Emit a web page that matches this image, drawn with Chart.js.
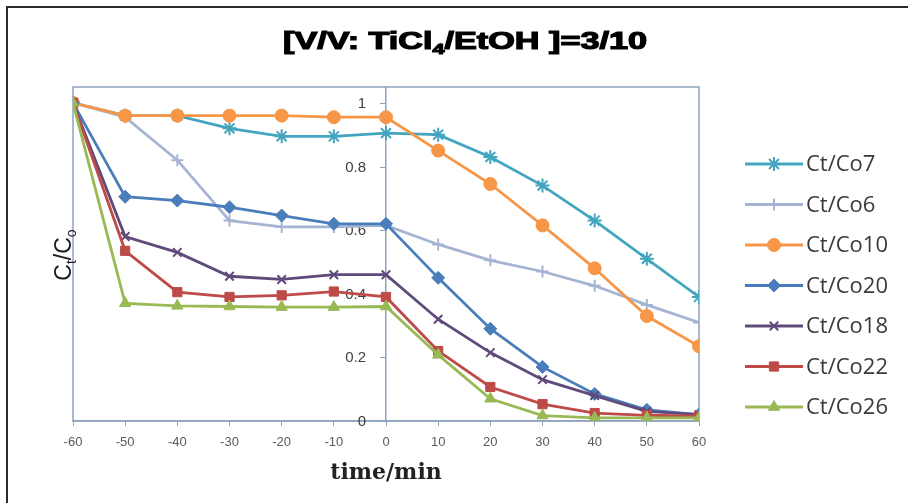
<!DOCTYPE html>
<html>
<head>
<meta charset="utf-8">
<script src="https://cdn.jsdelivr.net/npm/chart.js@4.4.1/dist/chart.umd.min.js"></script>
<style>
  html, body { margin: 0; padding: 0; background: #fff; }
  #wrap { position: relative; width: 908px; height: 503px; }
  #frame { position: absolute; left: 6px; top: 6px; right: 0; bottom: 0;
           border-left: 2px solid #2a2a2a; border-top: 2px solid #2a2a2a; pointer-events: none; }
</style>
</head>
<body>
<div id="wrap">
  <canvas id="chart" width="908" height="503"></canvas>
  <div id="frame"></div>
</div>
<script>
// time axis (min) and C/C0 readings per sample
const times = [-60, -50, -40, -30, -20, -10, 0, 10, 20, 30, 40, 50, 60];
const xTicks = [-60, -50, -40, -30, -20, -10, 0, 10, 20, 30, 40, 50, 60];
const yTicks = [0, 0.2, 0.4, 0.6, 0.8, 1];

const co7  = [1, 0.96, 0.96, 0.92, 0.895, 0.895, 0.905, 0.90, 0.83, 0.74, 0.63, 0.51, 0.39];
const co6  = [1, 0.955, 0.82, 0.63, 0.61, 0.61, 0.615, 0.555, 0.505, 0.47, 0.425, 0.365, 0.31];
const co10 = [1, 0.96, 0.96, 0.96, 0.96, 0.955, 0.955, 0.85, 0.745, 0.615, 0.48, 0.33, 0.235];
const co20 = [1, 0.705, 0.693, 0.672, 0.646, 0.62, 0.62, 0.45, 0.29, 0.17, 0.085, 0.035, 0.02];
const co18 = [1, 0.58, 0.53, 0.455, 0.445, 0.46, 0.46, 0.32, 0.215, 0.13, 0.08, 0.03, 0.02];
const co22 = [1, 0.535, 0.405, 0.39, 0.395, 0.407, 0.39, 0.22, 0.107, 0.053, 0.025, 0.018, 0.015];
const co26 = [1, 0.37, 0.362, 0.36, 0.358, 0.358, 0.36, 0.208, 0.07, 0.017, 0.01, 0.01, 0.01];

const AXIS_COLOR = '#8ea3bd';

function series(label, values, color, style, radius, order) {
  const thin = style === 'star' || style === 'cross' || style === 'crossRot';
  return {
    label,
    data: values.map((v, i) => ({ x: times[i], y: v })),
    borderColor: color,
    backgroundColor: color,
    borderWidth: 2.8,
    pointStyle: style,
    pointRadius: radius,
    pointBorderWidth: thin ? 2 : 1,
    pointBackgroundColor: color,
    pointBorderColor: color,
    tension: 0,
    order,
  };
}

const datasets = [
  series('Ct/Co7', co7, '#43a5bf', 'star', 7, 7),
  series('Ct/Co6', co6, '#a6b4d4', 'cross', 6, 6),
  series('Ct/Co10', co10, '#f79646', 'circle', 6.5, 5),
  series('Ct/Co20', co20, '#4a7ebb', 'rectRot', 6.5, 4),
  series('Ct/Co18', co18, '#604a7b', 'crossRot', 6, 3),
  series('Ct/Co22', co22, '#be4b48', 'rect', 6.5, 2),
  series('Ct/Co26', co26, '#98b954', 'triangle', 6.5, 1),
];

// frame around plot area + y ticks/labels left of the centred y axis
const plotFrame = {
  id: 'plotFrame',
  beforeDatasetsDraw(chart) {
    const { ctx, chartArea: a, scales } = chart;
    ctx.save();
    ctx.strokeStyle = AXIS_COLOR;
    ctx.lineWidth = 1.5;
    ctx.strokeRect(a.left, a.top, a.right - a.left, a.bottom - a.top);
    const x0 = scales.x.getPixelForValue(0);
    ctx.beginPath();
    ctx.fillStyle = '#404040';
    ctx.font = '15px "Liberation Sans"';
    ctx.textAlign = 'right';
    ctx.textBaseline = 'middle';
    yTicks.forEach(v => {
      const y = Math.round(scales.y.getPixelForValue(v)) + 0.5;
      ctx.moveTo(x0 - 6, y);
      ctx.lineTo(x0, y);
      ctx.fillText(String(v), x0 - 20, y);
    });
    ctx.lineWidth = 1;
    ctx.stroke();
    ctx.restore();
  }
};

// title with subscript, y title with subscripts, legend with line + marker
const extraText = {
  id: 'extraText',
  afterDraw(chart) {
    const ctx = chart.ctx;
    ctx.save();

    // title
    const parts = [
      { t: '[V/V: TiCl', f: 'bold 24px "Liberation Sans"', dy: 0 },
      { t: '4', f: 'bold 15px "Liberation Sans"', dy: 5 },
      { t: '/EtOH ]=3/10', f: 'bold 24px "Liberation Sans"', dy: 0 },
    ];
    let w = 0;
    parts.forEach(p => { ctx.font = p.f; p.w = ctx.measureText(p.t).width; w += p.w; });
    const targetW = 364, sx = targetW / w;
    ctx.translate(465 - targetW / 2, 49);
    ctx.scale(sx, 1);
    ctx.fillStyle = '#000';
    ctx.strokeStyle = '#000';
    ctx.lineWidth = 1.2;
    ctx.textBaseline = 'alphabetic';
    let x = 0;
    parts.forEach(p => {
      ctx.font = p.f;
      ctx.fillText(p.t, x, p.dy);
      ctx.strokeText(p.t, x, p.dy);
      x += p.w;
    });
    ctx.setTransform(1, 0, 0, 1, 0, 0);

    // y title
    const yp = [
      { t: 'C', f: '23px "Liberation Sans"', dy: 0 },
      { t: 't', f: '14px "Liberation Sans"', dy: 5 },
      { t: '/C', f: '23px "Liberation Sans"', dy: 0 },
      { t: 'o', f: '14px "Liberation Sans"', dy: 5 },
    ];
    let yw = 0;
    yp.forEach(p => { ctx.font = p.f; p.w = ctx.measureText(p.t).width; yw += p.w; });
    ctx.translate(71, 255);
    ctx.rotate(-Math.PI / 2);
    ctx.fillStyle = '#1a1a1a';
    let yx = -yw / 2;
    yp.forEach(p => { ctx.font = p.f; ctx.fillText(p.t, yx, p.dy); yx += p.w; });
    ctx.setTransform(1, 0, 0, 1, 0, 0);

    // legend
    chart.data.datasets.forEach((ds, i) => {
      const y = 164 + i * 40.5;
      ctx.strokeStyle = ds.borderColor;
      ctx.fillStyle = ds.backgroundColor;
      ctx.lineWidth = 2.8;
      ctx.beginPath();
      ctx.moveTo(745, y);
      ctx.lineTo(803, y);
      ctx.stroke();
      ctx.lineWidth = ds.pointBorderWidth;
      Chart.helpers.drawPoint(ctx, { pointStyle: ds.pointStyle, radius: ds.pointRadius, rotation: 0, borderWidth: ds.pointBorderWidth }, 774, y);
      ctx.fillStyle = '#3a3a3a';
      ctx.font = '22px "Open Sans"';
      ctx.textBaseline = 'middle';
      ctx.fillText(ds.label, 806, y + 1);
    });
    ctx.restore();
  }
};

new Chart(document.getElementById('chart'), {
  type: 'line',
  data: { datasets },
  options: {
    responsive: false,
    animation: false,
    layout: { padding: { left: 73, right: 209, top: 87, bottom: 0 } },
    plugins: {
      legend: { display: false },
      title: { display: false },
      tooltip: { enabled: false },
    },
    scales: {
      x: {
        type: 'linear',
        min: -60,
        max: 60,
        afterBuildTicks: s => { s.ticks = xTicks.map(v => ({ value: v })); },
        afterFit: s => { s.height = 82; },
        grid: { drawOnChartArea: false, tickLength: 5, color: AXIS_COLOR },
        border: { color: AXIS_COLOR, width: 1.5 },
        ticks: { color: '#5a5a5a', font: { family: 'Liberation Sans', size: 13 }, padding: 9 },
        title: {
          display: true,
          text: 'time/min',
          color: '#222',
          font: { family: 'DejaVu Serif', size: 22, weight: 'bold' },
          padding: { top: 4, bottom: 17 },
        },
      },
      y: {
        type: 'linear',
        position: { x: 0 },
        min: 0,
        max: 1.05,
        afterBuildTicks: s => { s.ticks = yTicks.map(v => ({ value: v })); },
        // tick marks and labels are drawn by plotFrame (left of the centred axis)
        grid: { display: false },
        border: { color: AXIS_COLOR, width: 1.5 },
        ticks: { display: false },
      },
    },
  },
  plugins: [plotFrame, extraText],
});
</script>
</body>
</html>
